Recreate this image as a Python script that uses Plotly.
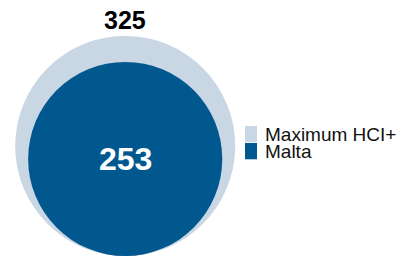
import math
import plotly.graph_objects as go

# ---- data ----
series_names = ["Maximum HCI+", "Malta"]
series_values = [325, 253]
series_colors = ["#c9d6e3", "#01588f"]

W, H = 407, 257
R_MAX = 110.0
CX = 125.2
BOTTOM = 256.0

fig = go.Figure()
fig.add_trace(go.Scatter(x=[0, W], y=[0, H], mode="markers",
                         marker=dict(opacity=0), hoverinfo="skip", showlegend=False))

vmax = max(series_values)
shapes = []
annotations = []
radii = []
for name, v, c in zip(series_names, series_values, series_colors):
    r = R_MAX * math.sqrt(v / vmax)
    radii.append(r)
    shapes.append(dict(type="circle", xref="x", yref="y",
                       x0=CX - r, x1=CX + r, y0=BOTTOM - 2 * r, y1=BOTTOM,
                       fillcolor=c, line=dict(width=0), layer="below"))

# value labels
big_top = BOTTOM - 2 * radii[0]
annotations.append(dict(x=CX, y=big_top - 16.5, xref="x", yref="y", text="<b>%d</b>" % series_values[0],
                        showarrow=False, xanchor="center", yanchor="middle",
                        font=dict(family="Liberation Sans, Arial", size=25, color="#000000")))
small_cy = BOTTOM - radii[1]
annotations.append(dict(x=CX, y=small_cy, xref="x", yref="y", text="<b>%d</b>" % series_values[1],
                        showarrow=False, xanchor="center", yanchor="middle",
                        font=dict(family="Liberation Sans, Arial", size=32, color="#ffffff")))

# manual legend
leg_x0, leg_w = 245, 12
leg_tops = [126, 143]
leg_h = 16.3
for i, (name, c) in enumerate(zip(series_names, series_colors)):
    y0 = leg_tops[i]
    shapes.append(dict(type="rect", xref="x", yref="y", x0=leg_x0, x1=leg_x0 + leg_w,
                       y0=y0, y1=y0 + leg_h, fillcolor=c, line=dict(width=0)))
    annotations.append(dict(x=leg_x0 + leg_w + 6, y=y0 + leg_h / 2, xref="x", yref="y", text=name,
                            showarrow=False, xanchor="left", yanchor="middle",
                            font=dict(family="Liberation Sans, Arial", size=19, color="#111111")))

fig.update_layout(
    width=W, height=H,
    margin=dict(l=0, r=0, t=0, b=0),
    paper_bgcolor="white", plot_bgcolor="white",
    xaxis=dict(range=[0, W], visible=False, fixedrange=True),
    yaxis=dict(range=[H, 0], visible=False, fixedrange=True),
    shapes=shapes, annotations=annotations, showlegend=False,
)
fig.write_html("out.html", config={"displayModeBar": False},
               post_script="document.body.style.margin='0';document.body.style.overflow='hidden';")
with open("out.html", "r", encoding="utf-8") as f:
    html = f.read()
html = html.replace("<head>", "<head><style>html,body{margin:0;padding:0;overflow:hidden;}</style>", 1)
with open("out.html", "w", encoding="utf-8") as f:
    f.write(html)
